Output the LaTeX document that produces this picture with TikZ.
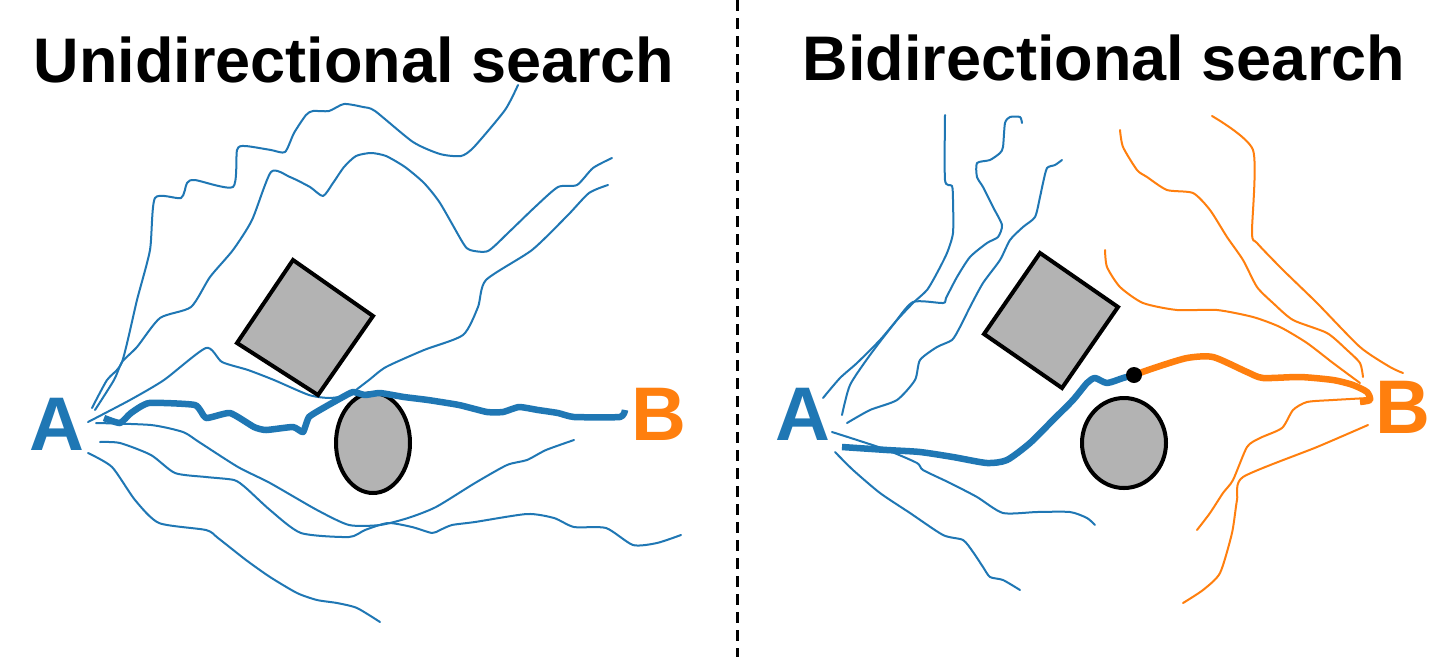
\documentclass[tikz,border=0pt]{standalone}
\usepackage{fontspec}
\setmainfont{Liberation Sans}
\definecolor{tblue}{HTML}{1F77B4}
\definecolor{torange}{HTML}{FF7F0E}
\definecolor{obst}{HTML}{B3B3B3}
\begin{document}
\begin{tikzpicture}[x=1pt,y=-1pt,
  thinb/.style={draw=tblue,line width=2pt,line cap=round,line join=round},
  thino/.style={draw=torange,line width=2pt,line cap=round,line join=round},
  thickb/.style={draw=tblue,line width=6.5pt,line join=round},
  thicko/.style={draw=torange,line width=6.5pt,line join=round},
  obstacle/.style={draw=black,line width=4pt,fill=obst,line join=miter},
  title/.style={font=\bfseries\fontsize{63}{70}\selectfont,anchor=base},
  lbl/.style={font=\bfseries\fontsize{76}{80}\selectfont,anchor=base,inner sep=0pt}]
\useasboundingbox (0,0) rectangle (1456,657);
\fill[white] (0,0) rectangle (1456,657);

\node[title] (t1) at (354,82) {Unidirectional search};
\node[title] (t2) at (1104,80) {Bidirectional search};
\draw[black,line width=3pt,dash pattern=on 11pt off 7pt] (737,0) -- (737,657);

% ---------------- left panel ----------------
\draw[thinb] plot[smooth,tension=0.4] coordinates {(92,408) (107,380) (122,362) (137,300) (150,250) (155,198) (181,198) (187,183) (195,180) (233,187) (237,150) (245,146) (271,150) (285,152) (294,133) (306,115) (313,111) (329,111) (344,104) (363,107) (375,111) (413,142) (440,154) (461,156) (474,147) (505,110) (518,85)};
\draw[thinb] plot[smooth,tension=0.4] coordinates {(95,410) (114,380) (122,362) (137,347) (160,318) (191,307) (210,277) (233,250) (252,220) (271,172) (290,177) (310,187) (323,196) (333,183) (344,167) (356,156) (371,153) (386,156) (405,167) (424,183) (440,203) (463,243) (470,250) (488,251) (509,232) (535,207) (558,187) (577,185) (593,168) (612,158)};
\draw[thinb] plot[smooth,tension=0.4] coordinates {(352,393) (369,380) (386,367) (424,350) (463,335) (478,307) (486,280) (532,250) (568,215) (589,193) (608,185)};
\draw[thinb] plot[smooth,tension=0.4] coordinates {(88,422) (130,400) (164,380) (206,348) (222,362) (248,370) (274,380) (309,395) (330,398) (350,395)};
\draw[thinb] plot[smooth,tension=0.4] coordinates {(96,423) (151,425) (183,432) (199,442) (238,467) (270,483) (317,510) (349,525) (380,525) (408,518) (436,507) (475,483) (507,465) (527,460) (546,450) (574,440)};
\draw[thinb] plot[smooth,tension=0.4] coordinates {(100,442) (120,443) (151,455) (175,473) (206,477) (234,480) (246,488) (270,510) (301,533) (349,537) (365,530) (388,523) (412,527) (432,533) (440,530) (452,525) (475,522) (527,514) (554,518) (574,527) (606,528) (633,545) (657,543) (681,535)};
\draw[thinb] plot[smooth,tension=0.4] coordinates {(88,453) (112,467) (135,500) (159,523) (206,530) (218,538) (246,560) (270,577) (297,593) (317,600) (337,603) (357,608) (380,622)};

\draw[obstacle] (293,260) -- (373,316) -- (318,395) -- (237,343) -- cycle;
\draw[obstacle] (373,443) ellipse [x radius=37, y radius=50];

\draw[thickb] plot[smooth,tension=0.3] coordinates {(104,418) (120,423) (131,413) (149,403) (195,405) (206,418) (230,413) (254,427) (266,430) (293,427) (303,432) (309,417) (325,407) (341,398) (353,392) (365,395) (380,393) (404,397) (428,400) (459,405) (487,412) (503,412) (519,407) (538,410) (558,413) (574,417) (620,417) (625,410)};

\node[lbl,text=tblue] (A1) at (57,450) {A};
\node[lbl,text=torange] (B1) at (659,440) {B};

% ---------------- right panel ----------------
\draw[thinb] plot[smooth,tension=0.4] coordinates {(945,115) (945,180) (952,186) (953,200) (953,233) (947,253) (937,273) (927,290) (913,303) (897,320) (880,340) (857,363) (840,378) (823,398)};
\draw[thinb] plot[smooth,tension=0.4] coordinates {(1022,123) (1020,117) (1010,117) (1005,123) (1003,147) (1000,153) (990,160) (977,163) (977,177) (983,187) (993,207) (1002,225) (998,237) (987,243) (970,257) (957,277) (946,298) (943,303) (913,302) (893,325) (870,355) (850,385) (842,415)};
\draw[thinb] plot[smooth,tension=0.4] coordinates {(1062,160) (1055,165) (1047,168) (1043,183) (1040,197) (1035,217) (1023,227) (1010,240) (1000,260) (983,283) (970,307) (960,327) (952,340) (937,347) (920,360) (915,380) (897,400) (870,410) (847,423)};
\draw[thinb] plot[smooth,tension=0.4] coordinates {(832,432) (857,440) (887,450) (917,463) (923,470) (950,483) (977,497) (1003,513) (1037,512) (1070,512) (1087,518) (1095,525)};
\draw[thinb] plot[smooth,tension=0.4] coordinates {(835,452) (853,470) (880,493) (910,513) (943,535) (963,540) (973,552) (983,567) (990,577) (1003,580) (1020,590)};

\draw[thino] plot[smooth,tension=0.4] coordinates {(1212,116) (1253,150) (1252,233) (1257,243) (1283,270) (1317,303) (1360,347) (1390,367) (1403,373)};
\draw[thino] plot[smooth,tension=0.4] coordinates {(1120,130) (1123,147) (1137,170) (1147,177) (1167,190) (1193,193) (1210,210) (1227,237) (1243,260) (1257,287) (1273,303) (1293,320) (1327,333) (1347,350) (1360,363) (1363,377)};
\draw[thino] plot[smooth,tension=0.4] coordinates {(1105,250) (1107,267) (1120,287) (1143,303) (1177,310) (1217,310) (1253,317) (1280,327) (1307,343) (1333,363) (1360,383)};
\draw[thino] plot[smooth,tension=0.4] coordinates {(1368,398) (1333,400) (1307,402) (1293,410) (1282,428) (1260,438) (1247,447) (1233,480) (1223,493) (1210,513) (1197,530)};
\draw[thino] plot[smooth,tension=0.4] coordinates {(1368,425) (1317,447) (1243,477) (1237,500) (1232,533) (1220,573) (1203,590) (1183,603)};

\draw[obstacle] (1040,253) -- (1118,307) -- (1062,388) -- (984,334) -- cycle;
\draw[obstacle] (1124,443) ellipse [x radius=42, y radius=45];

\draw[thickb] plot[smooth,tension=0.4] coordinates {(842,447) (887,450) (920,452) (953,457) (987,463) (1007,460) (1030,443) (1053,420) (1073,400) (1087,383) (1095,378) (1107,383) (1123,378) (1134,375)};
\draw[thicko] plot[smooth,tension=0.4] coordinates {(1134,375) (1157,367) (1187,358) (1213,357) (1247,372) (1263,378) (1300,377) (1333,380) (1353,385) (1367,392) (1370,400) (1360,402)};
\fill[black] (1134,375) circle (8);

\node[lbl,text=tblue] (A2) at (803,440) {A};
\node[lbl,text=torange] (B2) at (1403,433) {B};
\end{tikzpicture}
\end{document}
